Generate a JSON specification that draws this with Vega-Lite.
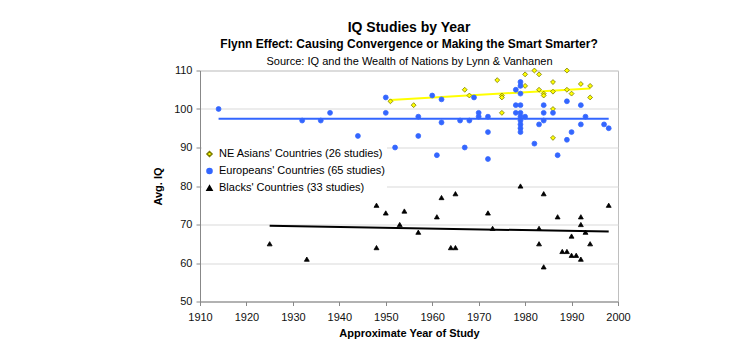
{
  "$schema": "https://vega.github.io/schema/vega-lite/v6.json",
  "autosize": {"type": "none"},
  "width": 418,
  "height": 231,
  "padding": {"left": 200, "top": 70.5, "right": 132, "bottom": 62.5},
  "background": "white",
  "title": {
    "text": "IQ Studies by Year",
    "subtitle": "Flynn Effect: Causing Convergence or Making the Smart Smarter?",
    "anchor": "middle",
    "font": "Liberation Sans",
    "fontSize": 14,
    "fontWeight": "bold",
    "color": "#000000",
    "subtitleFont": "Liberation Sans",
    "subtitleFontSize": 12,
    "subtitleFontWeight": "bold",
    "subtitleColor": "#000000",
    "subtitlePadding": 4,
    "offset": 6
  },
  "config": {
    "view": {"stroke": "#bfbfbf"},
    "axis": {"labelFont": "Liberation Sans", "titleFont": "Liberation Sans", "labelFontSize": 11, "titleFontSize": 11, "labelColor": "#111111", "titleColor": "#000000", "labelOverlap": false, "labelFlush": false}
  },
  "data": {
    "values": [
      {"series": "NE Asians' Countries (26 studies)", "year": 1951, "iq": 102},
      {"series": "NE Asians' Countries (26 studies)", "year": 1956, "iq": 101},
      {"series": "NE Asians' Countries (26 studies)", "year": 1967, "iq": 105},
      {"series": "NE Asians' Countries (26 studies)", "year": 1968, "iq": 103.5},
      {"series": "NE Asians' Countries (26 studies)", "year": 1974, "iq": 107.5},
      {"series": "NE Asians' Countries (26 studies)", "year": 1975, "iq": 103.5},
      {"series": "NE Asians' Countries (26 studies)", "year": 1975, "iq": 103},
      {"series": "NE Asians' Countries (26 studies)", "year": 1975, "iq": 99},
      {"series": "NE Asians' Countries (26 studies)", "year": 1980, "iq": 109},
      {"series": "NE Asians' Countries (26 studies)", "year": 1980, "iq": 106},
      {"series": "NE Asians' Countries (26 studies)", "year": 1982, "iq": 110},
      {"series": "NE Asians' Countries (26 studies)", "year": 1983, "iq": 109},
      {"series": "NE Asians' Countries (26 studies)", "year": 1983, "iq": 105},
      {"series": "NE Asians' Countries (26 studies)", "year": 1984, "iq": 104},
      {"series": "NE Asians' Countries (26 studies)", "year": 1984, "iq": 103.5},
      {"series": "NE Asians' Countries (26 studies)", "year": 1986, "iq": 107},
      {"series": "NE Asians' Countries (26 studies)", "year": 1986, "iq": 104.5},
      {"series": "NE Asians' Countries (26 studies)", "year": 1986, "iq": 100},
      {"series": "NE Asians' Countries (26 studies)", "year": 1986, "iq": 92.5},
      {"series": "NE Asians' Countries (26 studies)", "year": 1989, "iq": 110},
      {"series": "NE Asians' Countries (26 studies)", "year": 1989, "iq": 105},
      {"series": "NE Asians' Countries (26 studies)", "year": 1990, "iq": 104},
      {"series": "NE Asians' Countries (26 studies)", "year": 1992, "iq": 106.5},
      {"series": "NE Asians' Countries (26 studies)", "year": 1994, "iq": 106},
      {"series": "NE Asians' Countries (26 studies)", "year": 1994, "iq": 103},
      {"series": "Europeans' Countries (65 studies)", "year": 1914, "iq": 100},
      {"series": "Europeans' Countries (65 studies)", "year": 1932, "iq": 97},
      {"series": "Europeans' Countries (65 studies)", "year": 1936, "iq": 97},
      {"series": "Europeans' Countries (65 studies)", "year": 1938, "iq": 99},
      {"series": "Europeans' Countries (65 studies)", "year": 1944, "iq": 93},
      {"series": "Europeans' Countries (65 studies)", "year": 1950, "iq": 103},
      {"series": "Europeans' Countries (65 studies)", "year": 1950, "iq": 99},
      {"series": "Europeans' Countries (65 studies)", "year": 1952, "iq": 90},
      {"series": "Europeans' Countries (65 studies)", "year": 1957, "iq": 98},
      {"series": "Europeans' Countries (65 studies)", "year": 1957, "iq": 93},
      {"series": "Europeans' Countries (65 studies)", "year": 1960, "iq": 103.5},
      {"series": "Europeans' Countries (65 studies)", "year": 1961, "iq": 88},
      {"series": "Europeans' Countries (65 studies)", "year": 1962, "iq": 102.5},
      {"series": "Europeans' Countries (65 studies)", "year": 1962, "iq": 96.5},
      {"series": "Europeans' Countries (65 studies)", "year": 1966, "iq": 97},
      {"series": "Europeans' Countries (65 studies)", "year": 1967, "iq": 90},
      {"series": "Europeans' Countries (65 studies)", "year": 1968, "iq": 97},
      {"series": "Europeans' Countries (65 studies)", "year": 1969, "iq": 103},
      {"series": "Europeans' Countries (65 studies)", "year": 1970, "iq": 99},
      {"series": "Europeans' Countries (65 studies)", "year": 1970, "iq": 98},
      {"series": "Europeans' Countries (65 studies)", "year": 1972, "iq": 98},
      {"series": "Europeans' Countries (65 studies)", "year": 1972, "iq": 94},
      {"series": "Europeans' Countries (65 studies)", "year": 1972, "iq": 87},
      {"series": "Europeans' Countries (65 studies)", "year": 1978, "iq": 105},
      {"series": "Europeans' Countries (65 studies)", "year": 1978, "iq": 101},
      {"series": "Europeans' Countries (65 studies)", "year": 1978, "iq": 99},
      {"series": "Europeans' Countries (65 studies)", "year": 1979, "iq": 107},
      {"series": "Europeans' Countries (65 studies)", "year": 1979, "iq": 106},
      {"series": "Europeans' Countries (65 studies)", "year": 1979, "iq": 104},
      {"series": "Europeans' Countries (65 studies)", "year": 1979, "iq": 101},
      {"series": "Europeans' Countries (65 studies)", "year": 1979, "iq": 99},
      {"series": "Europeans' Countries (65 studies)", "year": 1979, "iq": 98},
      {"series": "Europeans' Countries (65 studies)", "year": 1979, "iq": 97},
      {"series": "Europeans' Countries (65 studies)", "year": 1979, "iq": 96},
      {"series": "Europeans' Countries (65 studies)", "year": 1979, "iq": 95},
      {"series": "Europeans' Countries (65 studies)", "year": 1979, "iq": 94},
      {"series": "Europeans' Countries (65 studies)", "year": 1980, "iq": 98},
      {"series": "Europeans' Countries (65 studies)", "year": 1982, "iq": 91},
      {"series": "Europeans' Countries (65 studies)", "year": 1983, "iq": 96},
      {"series": "Europeans' Countries (65 studies)", "year": 1984, "iq": 101},
      {"series": "Europeans' Countries (65 studies)", "year": 1984, "iq": 99},
      {"series": "Europeans' Countries (65 studies)", "year": 1984, "iq": 97},
      {"series": "Europeans' Countries (65 studies)", "year": 1986, "iq": 99},
      {"series": "Europeans' Countries (65 studies)", "year": 1987, "iq": 88},
      {"series": "Europeans' Countries (65 studies)", "year": 1989, "iq": 102},
      {"series": "Europeans' Countries (65 studies)", "year": 1989, "iq": 92},
      {"series": "Europeans' Countries (65 studies)", "year": 1990, "iq": 94},
      {"series": "Europeans' Countries (65 studies)", "year": 1992, "iq": 101},
      {"series": "Europeans' Countries (65 studies)", "year": 1992, "iq": 96},
      {"series": "Europeans' Countries (65 studies)", "year": 1993, "iq": 98},
      {"series": "Europeans' Countries (65 studies)", "year": 1997, "iq": 96},
      {"series": "Europeans' Countries (65 studies)", "year": 1998, "iq": 95},
      {"series": "Blacks' Countries (33 studies)", "year": 1925, "iq": 65},
      {"series": "Blacks' Countries (33 studies)", "year": 1933, "iq": 61},
      {"series": "Blacks' Countries (33 studies)", "year": 1948, "iq": 75},
      {"series": "Blacks' Countries (33 studies)", "year": 1948, "iq": 64},
      {"series": "Blacks' Countries (33 studies)", "year": 1950, "iq": 73},
      {"series": "Blacks' Countries (33 studies)", "year": 1953, "iq": 70},
      {"series": "Blacks' Countries (33 studies)", "year": 1954, "iq": 73.5},
      {"series": "Blacks' Countries (33 studies)", "year": 1957, "iq": 68},
      {"series": "Blacks' Countries (33 studies)", "year": 1961, "iq": 72},
      {"series": "Blacks' Countries (33 studies)", "year": 1962, "iq": 77},
      {"series": "Blacks' Countries (33 studies)", "year": 1964, "iq": 64},
      {"series": "Blacks' Countries (33 studies)", "year": 1965, "iq": 64},
      {"series": "Blacks' Countries (33 studies)", "year": 1965, "iq": 78},
      {"series": "Blacks' Countries (33 studies)", "year": 1972, "iq": 73},
      {"series": "Blacks' Countries (33 studies)", "year": 1973, "iq": 69},
      {"series": "Blacks' Countries (33 studies)", "year": 1979, "iq": 80},
      {"series": "Blacks' Countries (33 studies)", "year": 1983, "iq": 69},
      {"series": "Blacks' Countries (33 studies)", "year": 1983, "iq": 65},
      {"series": "Blacks' Countries (33 studies)", "year": 1984, "iq": 78},
      {"series": "Blacks' Countries (33 studies)", "year": 1984, "iq": 59},
      {"series": "Blacks' Countries (33 studies)", "year": 1987, "iq": 72},
      {"series": "Blacks' Countries (33 studies)", "year": 1988, "iq": 63},
      {"series": "Blacks' Countries (33 studies)", "year": 1989, "iq": 63},
      {"series": "Blacks' Countries (33 studies)", "year": 1990, "iq": 67},
      {"series": "Blacks' Countries (33 studies)", "year": 1990, "iq": 62},
      {"series": "Blacks' Countries (33 studies)", "year": 1991, "iq": 62},
      {"series": "Blacks' Countries (33 studies)", "year": 1992, "iq": 72},
      {"series": "Blacks' Countries (33 studies)", "year": 1992, "iq": 70},
      {"series": "Blacks' Countries (33 studies)", "year": 1992, "iq": 61},
      {"series": "Blacks' Countries (33 studies)", "year": 1993, "iq": 68},
      {"series": "Blacks' Countries (33 studies)", "year": 1994, "iq": 65},
      {"series": "Blacks' Countries (33 studies)", "year": 1998, "iq": 75}
    ]
  },
  "encoding": {
    "y": {"field": "iq", "type": "quantitative", "scale": {"domain": [50, 110], "nice": false, "zero": false},
          "axis": {"title": "Avg. IQ", "titleFontWeight": "bold", "values": [50, 60, 70, 80, 90, 100, 110], "tickCount": 7, "grid": true, "gridColor": "#d9d9d9", "domainColor": "#888888", "tickColor": "#888888", "tickSize": 4, "labelPadding": 4, "titlePadding": 10}}
  },
  "resolve": {"axis": {"x": "independent"}},
  "layer": [
    {
      "transform": [{"filter": "datum.series === \"NE Asians' Countries (26 studies)\""}, {"regression": "iq", "on": "year"}],
      "mark": {"type": "line", "color": "#ffff00", "strokeWidth": 2},
      "encoding": {
        "x": {"field": "year", "type": "quantitative", "scale": {"domain": [1910, 2000], "nice": false, "zero": false},
              "axis": {"orient": "top", "title": "Source: IQ and the Wealth of Nations by Lynn & Vanhanen", "titleFontWeight": "normal", "titleFontSize": 11, "labels": false, "ticks": false, "domain": false, "grid": false, "titlePadding": 4}}
      }
    },
    {
      "transform": [{"filter": "datum.series === \"Europeans' Countries (65 studies)\""}, {"regression": "iq", "on": "year"}],
      "mark": {"type": "line", "color": "#3366ff", "strokeWidth": 2},
      "encoding": {
        "x": {"field": "year", "type": "quantitative", "axis": null}
      }
    },
    {
      "transform": [{"filter": "datum.series === \"Blacks' Countries (33 studies)\""}, {"regression": "iq", "on": "year"}],
      "mark": {"type": "line", "color": "#000000", "strokeWidth": 2},
      "encoding": {
        "x": {"field": "year", "type": "quantitative", "axis": null}
      }
    },
    {
      "mark": {"type": "point", "filled": true, "size": 24, "strokeWidth": 0.8, "opacity": 1},
      "encoding": {
        "x": {"field": "year", "type": "quantitative",
              "axis": {"orient": "bottom", "title": "Approximate Year of Study", "titleFontWeight": "bold", "values": [1910, 1920, 1930, 1940, 1950, 1960, 1970, 1980, 1990, 2000], "format": "d", "grid": false, "domainColor": "#888888", "tickColor": "#888888", "tickSize": 4, "labelPadding": 6, "titlePadding": 5}},
        "color": {"field": "series", "type": "nominal",
                  "scale": {"domain": ["NE Asians' Countries (26 studies)", "Europeans' Countries (65 studies)", "Blacks' Countries (33 studies)"], "range": ["#ffff00", "#3366ff", "#000000"]},
                  "legend": {"title": null, "orient": "none", "legendX": 2, "legendY": 76, "fillColor": "white", "labelFont": "Liberation Sans", "labelFontSize": 11, "labelColor": "#000000", "symbolSize": 26, "rowPadding": 4, "padding": 2, "labelLimit": 300}},
        "shape": {"field": "series", "type": "nominal",
                  "scale": {"domain": ["NE Asians' Countries (26 studies)", "Europeans' Countries (65 studies)", "Blacks' Countries (33 studies)"], "range": ["diamond", "circle", "triangle-up"]}},
        "stroke": {"field": "series", "type": "nominal",
                   "scale": {"domain": ["NE Asians' Countries (26 studies)", "Europeans' Countries (65 studies)", "Blacks' Countries (33 studies)"], "range": ["#7a7a00", "#3366ff", "#000000"]}}
      }
    }
  ]
}
